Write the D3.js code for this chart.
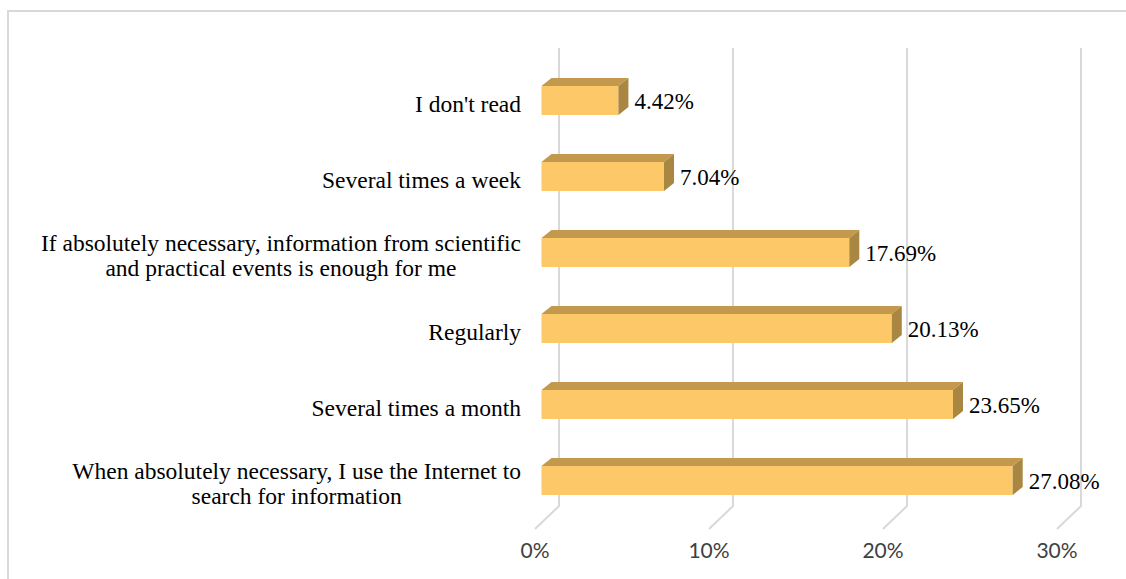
<!DOCTYPE html>
<html>
<head>
<meta charset="utf-8">
<script src="https://cdn.jsdelivr.net/npm/d3@7"></script>
<style>
  html, body { margin: 0; padding: 0; background: #fff; }
  svg { display: block; }
</style>
</head>
<body>
<svg id="chart" width="1126" height="579"></svg>
<script>
// ---- data ----
const categories = [
  ["I don't read"],
  ["Several times a week"],
  ["If absolutely necessary, information from scientific", "and practical events is enough for me"],
  ["Regularly"],
  ["Several times a month"],
  ["When absolutely necessary, I use the Internet to", "search for information"]
];
const values = [4.42, 7.04, 17.69, 20.13, 23.65, 27.08];
const tickValues = [0, 10, 20, 30];
const tickLabels = ["0%", "10%", "20%", "30%"];

// ---- layout ----
const svg = d3.select("#chart");
const W = 1126, H = 579;

// frame
svg.append("rect")
  .attr("x", 8).attr("y", 11)
  .attr("width", W + 20).attr("height", H + 20)
  .attr("fill", "none").attr("stroke", "#d9d9d9").attr("stroke-width", 2);

const x = d3.scaleLinear().domain([0, 30]).range([535, 1057]);
const DX = 24, DY = -23;           // depth vector (front -> back)
const frontBottom = 529, gridTop = 48;

const y = d3.scalePoint()
  .domain(d3.range(categories.length))
  .range([62.5, 518.5])
  .padding(0.5);

// gridlines (back wall + floor)
const grid = svg.append("g");
tickValues.forEach(t => {
  const xf = x(t);
  grid.append("path")
    .attr("d", `M${xf},${frontBottom} L${xf + DX},${frontBottom + DY} L${xf + DX},${gridTop}`)
    .attr("fill", "none").attr("stroke", "#d9d9d9").attr("stroke-width", 2);
});

// tick labels
svg.append("g").selectAll("text")
  .data(tickValues)
  .join("text")
  .attr("x", d => x(d))
  .attr("y", 558)
  .attr("text-anchor", "middle")
  .attr("font-family", "Lato, 'Open Sans', sans-serif")
  .attr("font-size", 21)
  .attr("fill", "#404040")
  .text((d, i) => tickLabels[i]);

// bars
const bx = 6.5, bh = 29, ddx = 10, ddy = -8;
const colFront = "#fdc968", colTop = "#c39a4d", colSide = "#a98641";
const bars = svg.append("g");
values.forEach((v, i) => {
  const c = y(i);
  const x0 = x(0) + bx, x1 = x(v) + bx;
  const top = c - bh / 2, bot = c + bh / 2;
  bars.append("rect")
    .attr("x", x0).attr("y", top)
    .attr("width", x1 - x0).attr("height", bh)
    .attr("fill", colFront);
  bars.append("path")
    .attr("d", `M${x0},${top} L${x0 + ddx},${top + ddy} L${x1 + ddx},${top + ddy} L${x1},${top} Z`)
    .attr("fill", colTop);
  bars.append("path")
    .attr("d", `M${x1},${top} L${x1 + ddx},${top + ddy} L${x1 + ddx},${bot + ddy} L${x1},${bot} Z`)
    .attr("fill", colSide);
  bars.append("text")
    .attr("x", x1 + 16)
    .attr("y", c + 8.5)
    .attr("font-family", "'Liberation Serif', 'Times New Roman', serif")
    .attr("font-size", 23)
    .attr("fill", "#000")
    .text(v.toFixed(2) + "%");
});

// category labels
const labG = svg.append("g")
  .attr("font-family", "'Liberation Serif', 'Times New Roman', serif")
  .attr("font-size", 23.5)
  .attr("fill", "#000");
const rightEdge = 521, lineH = 25;
categories.forEach((lines, i) => {
  const c = y(i);
  const n = lines.length;
  const t = labG.append("text").attr("text-anchor", "middle");
  const spans = lines.map((ln, j) =>
    t.append("tspan").attr("y", c + 11 + (j - (n - 1) / 2) * lineH).text(ln));
  const maxW = d3.max(spans, s => s.node().getComputedTextLength());
  spans.forEach(s => s.attr("x", rightEdge - maxW / 2));
});
</script>
</body>
</html>
